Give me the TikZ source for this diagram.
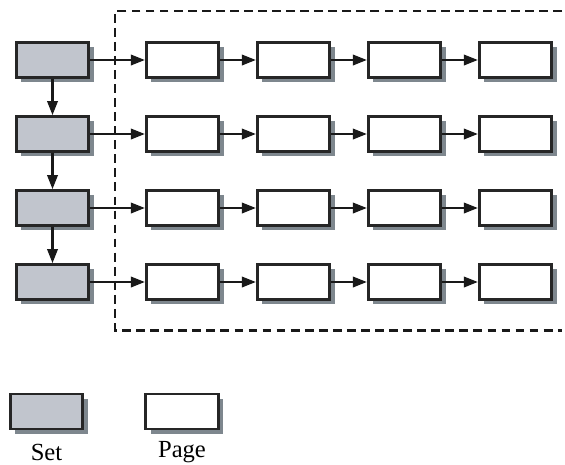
\documentclass[tikz,border=0pt]{standalone}
\usepackage{fontspec}
\setmainfont{Liberation Serif}
\usetikzlibrary{arrows.meta,shadows}
\definecolor{setgray}{HTML}{C1C5CD}
\definecolor{shadowgray}{HTML}{7E878E}
\tikzset{
  box/.style={draw=black!85, line width=1.6pt, minimum width=1.45cm, minimum height=0.7cm, inner sep=0pt,
    drop shadow={shadow xshift=2.8pt, shadow yshift=-2.8pt, fill=shadowgray, opacity=1}},
  setbox/.style={box, fill=setgray},
  pagebox/.style={box, fill=white},
  link/.style={draw=black!90, line width=1.2pt, -{Triangle[length=8pt,width=6pt]}},
  frame/.style={draw=black!90, line width=1.7pt, dash pattern=on 5pt off 3pt},
  legtext/.style={font=\fontsize{14}{16}\selectfont}
}
\begin{document}
\begin{tikzpicture}[x=0.02cm,y=-0.02cm]
  \useasboundingbox (0,0) rectangle (565,464);
  % page area
  \draw[frame] (562,11) -| (115,330) -- (562,330);

  % sets and their pages
  \foreach \r/\y in {1/60,2/134,3/208,4/282}{
    \node[setbox] (s\r) at (52.5,\y) {};
    \foreach \c/\x in {1/182.5,2/293.5,3/404.5,4/515.5}
      \node[pagebox] (p\r\c) at (\x,\y) {};
  }

  \foreach \r in {1,...,4}{
    \draw[link] (s\r) -- (p\r1);
    \draw[link] (p\r1) -- (p\r2);
    \draw[link] (p\r2) -- (p\r3);
    \draw[link] (p\r3) -- (p\r4);
  }
  \foreach \r [count=\n from 2] in {1,2,3}
    \draw[link] (s\r) -- (s\n);

  % legend
  \node[setbox] (legset) at (46.5,411.5) {};
  \node[pagebox] (legpage) at (182,411.5) {};
  \node[legtext] (legsettext) at (46.5,452) {Set};
  \node[legtext] (legpagetext) at (182,452) {Page};
\end{tikzpicture}
\end{document}
